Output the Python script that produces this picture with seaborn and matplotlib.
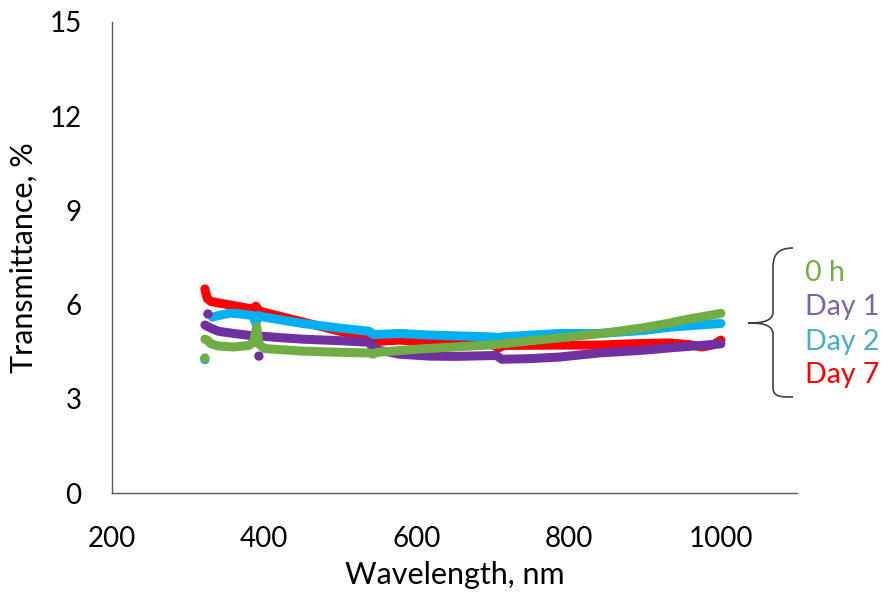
import matplotlib
matplotlib.use("Agg")
import matplotlib.pyplot as plt
from matplotlib.path import Path
from matplotlib.patches import PathPatch
import seaborn as sns
import pandas as pd

# ---- data ----
wl_0h = [322, 326, 330, 340, 360, 380, 386, 390, 393, 400, 450, 500, 538, 543, 548,
         600, 650, 700, 750, 800, 850, 900, 930, 960, 1000]
t_0h = [4.90, 4.85, 4.75, 4.68, 4.65, 4.70, 4.80, 5.30, 4.75, 4.60, 4.52, 4.48, 4.46,
        4.42, 4.48, 4.58, 4.65, 4.72, 4.85, 4.97, 5.10, 5.27, 5.40, 5.55, 5.72]

wl_d1 = [322, 330, 340, 360, 380, 388, 394, 420, 450, 500, 538, 542, 550, 578, 617,
         650, 705, 712, 750, 788, 840, 900, 932, 1000]
t_d1 = [5.35, 5.25, 5.15, 5.08, 5.02, 4.98, 5.00, 4.95, 4.90, 4.85, 4.80, 4.65, 4.55,
        4.42, 4.36, 4.35, 4.38, 4.26, 4.28, 4.33, 4.46, 4.55, 4.62, 4.75]

wl_d2 = [332, 340, 355, 370, 385, 389, 392, 400, 450, 500, 538, 543, 550, 578, 617,
         700, 708, 715, 788, 840, 900, 932, 1000]
t_d2 = [5.60, 5.65, 5.73, 5.70, 5.65, 5.40, 5.65, 5.60, 5.40, 5.25, 5.15, 5.05, 5.05,
        5.08, 5.03, 4.97, 4.95, 4.98, 5.08, 5.08, 5.18, 5.28, 5.40]

wl_d7 = [322, 325, 330, 340, 355, 375, 386, 389, 393, 400, 450, 500, 538, 543, 578,
         617, 700, 708, 715, 788, 840, 880, 932, 960, 975, 990, 1000]
t_d7 = [6.50, 6.20, 6.10, 6.05, 5.99, 5.90, 5.85, 5.95, 5.80, 5.75, 5.45, 5.15, 4.94,
        4.82, 4.87, 4.80, 4.72, 4.62, 4.70, 4.71, 4.71, 4.75, 4.78, 4.72, 4.65, 4.72, 4.87]

# isolated stray points
out_wl = [322, 326, 393, 322]
out_t = [4.30, 5.70, 4.36, 4.25]
out_series = ["0 h", "Day 1", "Day 1", "Day 2"]

series_names = ["0 h", "Day 1", "Day 2", "Day 7"]
line_colors = {"0 h": "#70AD47", "Day 1": "#7030A0", "Day 2": "#00B0F0", "Day 7": "#FF0000"}
label_colors = {"0 h": "#70AD47", "Day 1": "#8064A2", "Day 2": "#4BACC6", "Day 7": "#FF0000"}

x_ticks = [200, 400, 600, 800, 1000]
y_ticks = [0, 3, 6, 9, 12, 15]

frames = []
for name, w, t in [("0 h", wl_0h, t_0h), ("Day 1", wl_d1, t_d1),
                   ("Day 2", wl_d2, t_d2), ("Day 7", wl_d7, t_d7)]:
    frames.append(pd.DataFrame({"wl": w, "T": t, "series": name}))
df = pd.DataFrame(pd.concat(frames, ignore_index=True))
df_out = pd.DataFrame({"wl": out_wl, "T": out_t, "series": out_series})

# ---- figure ----
sns.set_theme(style="white")
plt.rcParams["font.family"] = ["Lato", "DejaVu Sans"]

fig = plt.figure(figsize=(8.83, 6.0), dpi=100)
ax = fig.add_axes([112 / 883, 1 - 493 / 600, (797 - 112) / 883, (493 - 22) / 600])

draw_order = ["Day 7", "Day 2", "Day 1", "0 h"]
for name in draw_order:
    sub = df[df["series"] == name]
    sns.lineplot(data=sub, x="wl", y="T", color=line_colors[name], linewidth=6.5,
                 sort=False, estimator=None, ax=ax, legend=False,
                 solid_capstyle="round", solid_joinstyle="round")
    so = df_out[df_out["series"] == name]
    if len(so):
        sns.scatterplot(data=so, x="wl", y="T", color=line_colors[name], s=45,
                        edgecolor="none", ax=ax, legend=False, zorder=3)

ax.set_xlim(200, 1100)
ax.set_ylim(0, 15)
ax.set_xticks(x_ticks)
ax.set_yticks(y_ticks)
ax.set_xticklabels([str(v) for v in x_ticks])
ax.set_yticklabels([str(v) for v in y_ticks])
ax.tick_params(axis="both", length=0, labelsize=20, colors="black")
ax.tick_params(axis="x", pad=24)
ax.tick_params(axis="y", pad=22)
for s in ["top", "right"]:
    ax.spines[s].set_visible(False)
for s in ["left", "bottom"]:
    ax.spines[s].set_color("#595959")
    ax.spines[s].set_linewidth(1.0)

ax.set_xlabel("Wavelength, nm", fontsize=22, color="black", labelpad=6)
ax.set_ylabel("Transmittance, %", fontsize=22, color="black", labelpad=8)

# ---- brace and labels (figure pixel coordinates) ----
def fp(x, y):
    return (x / 883, 1 - y / 600)

verts = [fp(793, 248), fp(775, 248), fp(773, 258), fp(773, 268),
         fp(773, 312),
         fp(773, 322), fp(760, 323), fp(748, 323),
         fp(760, 323), fp(773, 324), fp(773, 334),
         fp(773, 387),
         fp(773, 397), fp(780, 397), fp(793, 397)]
codes = [Path.MOVETO, Path.CURVE4, Path.CURVE4, Path.CURVE4,
         Path.LINETO,
         Path.CURVE4, Path.CURVE4, Path.CURVE4,
         Path.CURVE4, Path.CURVE4, Path.CURVE4,
         Path.LINETO,
         Path.CURVE4, Path.CURVE4, Path.CURVE4]
brace = PathPatch(Path(verts, codes), transform=fig.transFigure, fill=False,
                  edgecolor="#404040", linewidth=1.2)
fig.patches.append(brace)

label_y = [273, 307, 342, 375]
for name, yy in zip(series_names, label_y):
    fig.text(805 / 883, 1 - yy / 600, name, color=label_colors[name], fontsize=20.5,
             ha="left", va="center")

fig.savefig("out.png", dpi=100)
